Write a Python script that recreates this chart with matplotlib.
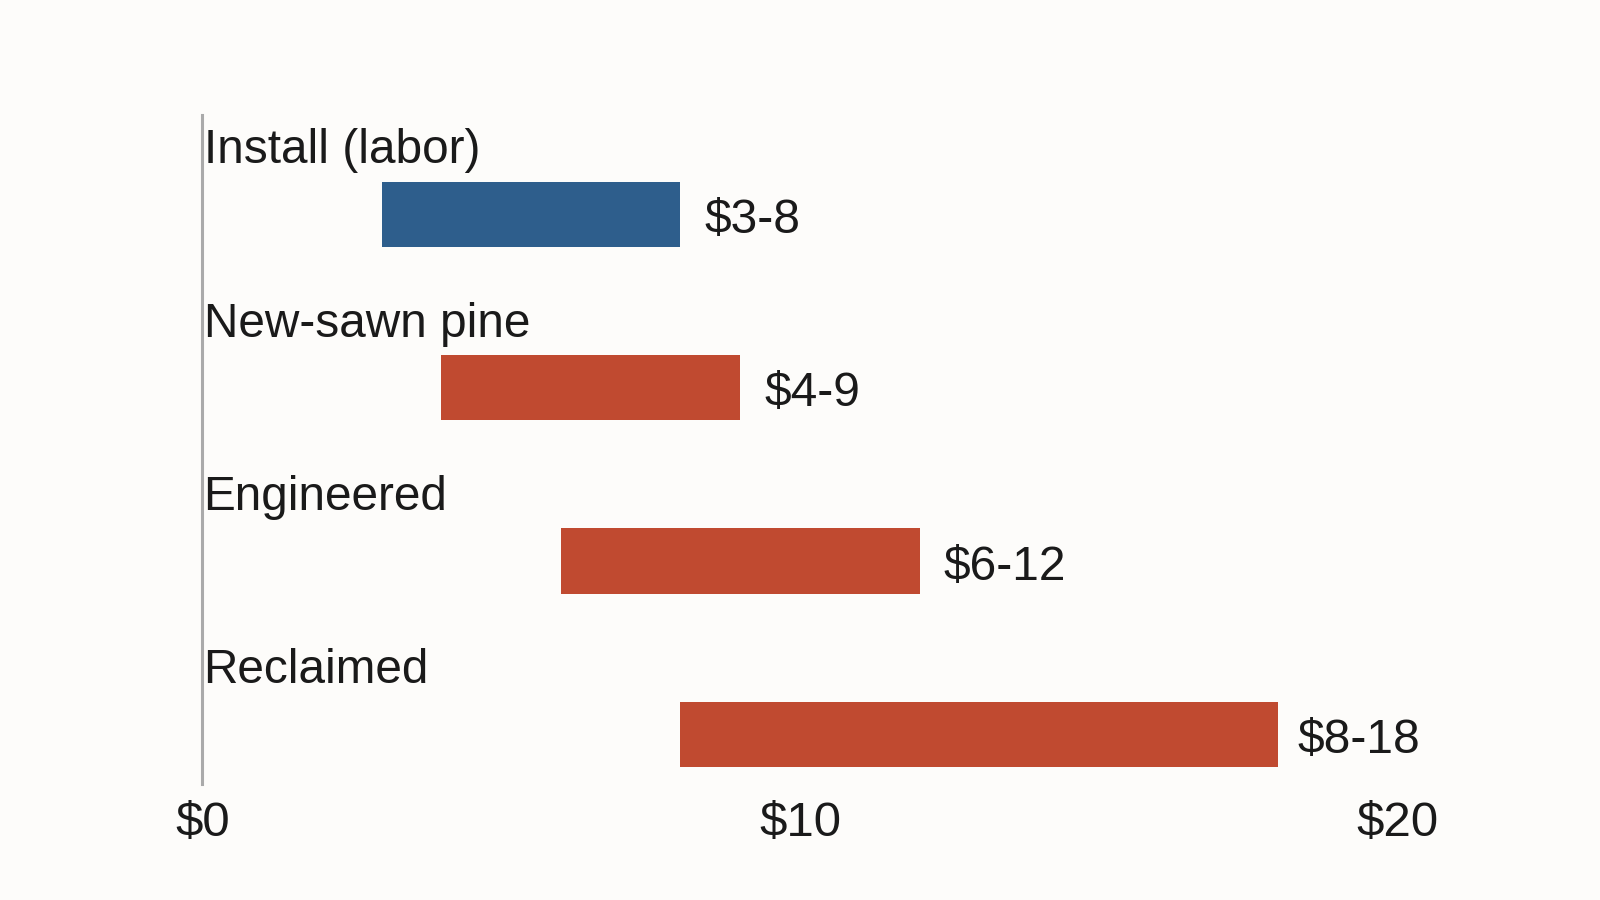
import numpy as np
from matplotlib import pyplot as plt

plt.rcParams['font.family'] = ['Liberation Sans', 'DejaVu Sans']

# data
categories = ["Install (labor)", "New-sawn pine", "Engineered", "Reclaimed"]
low = [3, 4, 6, 8]
high = [8, 9, 12, 18]
value_labels = ["$3-8", "$4-9", "$6-12", "$8-18"]
bar_colors = ["#2E5E8C", "#C04A30", "#C04A30", "#C04A30"]
tick_vals = [0, 10, 20]
tick_labels = ["$0", "$10", "$20"]

bg = "#FDFCFA"
txt = "#1A1A1A"

fig = plt.figure(figsize=(16, 9), dpi=100, facecolor=bg)
ax = fig.add_axes([0.1265, 0.129, 0.747, 0.743])
ax.set_facecolor(bg)

pos = np.arange(len(categories))
widths = [h - l for l, h in zip(low, high)]
ax.barh(pos, widths, left=low, height=0.375, color=bar_colors, zorder=2)

for i in range(len(categories)):
    ax.text(0.02, pos[i] - 0.294, categories[i], fontsize=34.4, color=txt,
            ha='left', va='baseline')
    # label sits right of the bar, pulled in a bit near the edge
    lx = min(high[i] + 0.40, 18.32)
    ax.text(lx, pos[i] + 0.035, value_labels[i], fontsize=34.5,
            color=txt, ha='left', va='center', clip_on=False)

ax.set_xlim(0, 20)
ax.set_ylim(3.285, -0.57)

for s in ['top', 'right', 'bottom']:
    ax.spines[s].set_visible(False)
ax.spines['left'].set_color("#AAAAAA")
ax.spines['left'].set_linewidth(2.2)

ax.set_yticks([])
ax.set_xticks(tick_vals)
ax.set_xticklabels(tick_labels, fontsize=35.5, color=txt)
ax.tick_params(axis='x', length=0, pad=12)

fig.savefig("out.png", dpi=100, facecolor=bg)
